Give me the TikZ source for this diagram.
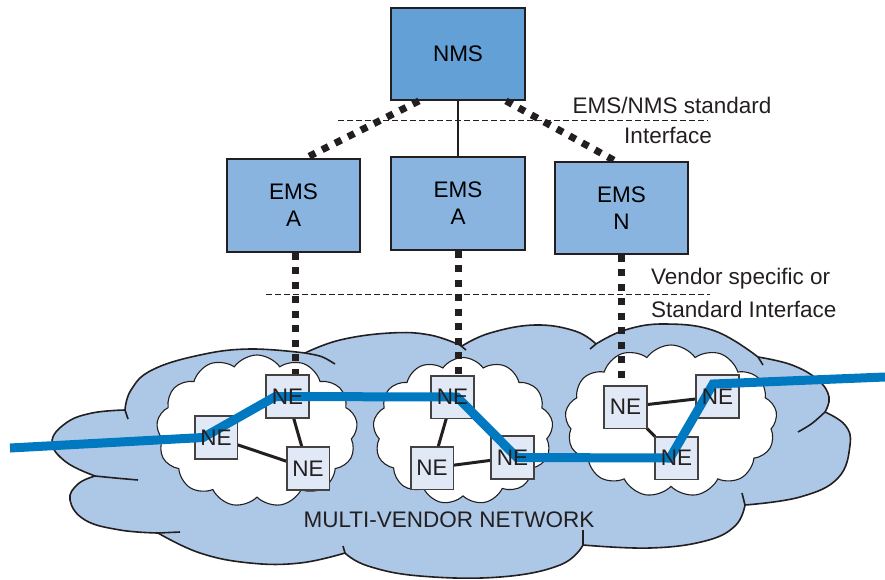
\documentclass[tikz,border=0pt]{standalone}
\usepackage{fontspec}
\setmainfont{Liberation Sans}
\usetikzlibrary{shapes.symbols,calc}
\definecolor{nmsblue}{HTML}{62A0D6}
\definecolor{emsblue}{HTML}{88B4DF}
\definecolor{cloudblue}{HTML}{ADC8E6}
\definecolor{nefill}{HTML}{E1E9F7}
\definecolor{linkblue}{HTML}{0079C1}
\definecolor{ink}{HTML}{231F20}
\begin{document}
\begin{tikzpicture}[x=1pt,y=-1pt,
  mgr/.style={draw=ink, line width=1.8pt, inner sep=0pt, align=center,
    minimum width=133, minimum height=92, font=\fontsize{22.5}{27}\selectfont},
  nebox/.style={draw=ink!85, line width=1.8pt, fill=nefill, inner sep=0pt,
    minimum width=41, minimum height=41},
  nelabel/.style={inner sep=0pt, font=\fontsize{22.5}{24}\selectfont, text=ink},
  dotline/.style={draw=ink, line width=7pt, dash pattern=on 7pt off 7.5pt},
  thindash/.style={draw=ink, line width=0.8pt, dash pattern=on 6pt off 3pt},
  link/.style={draw=ink, line width=3pt},
  bigcloud/.style={fill=cloudblue, draw=ink, line width=1.6pt, line join=round},
  stub/.style={draw=ink, line width=1.6pt},
  wcloud/.style={cloud, cloud ignores aspect, draw=ink, fill=white, line width=1.1pt,
    cloud puffs=13, cloud puff arc=110},
  txt/.style={inner sep=0pt, font=\fontsize{22.5}{27}\selectfont, text=ink}
]
\useasboundingbox (0,0) rectangle (885,579);

% big multi-vendor cloud
\path[bigcloud] (95,476)
 -- plot[smooth,tension=0.7] coordinates {(95,476) (66,462) (52,442) (66,423) (92,413) (125,410)}
 -- plot[smooth,tension=0.7] coordinates {(125,410) (131,390) (152,370) (200,355) (250,349) (305,353)}
 -- plot[smooth,tension=0.7] coordinates {(305,353) (340,340) (390,333) (430,335) (462,346)}
 -- plot[smooth,tension=0.7] coordinates {(462,346) (490,333) (535,325) (575,331) (596,344)}
 -- plot[smooth,tension=0.7] coordinates {(596,344) (625,330) (665,324) (715,331) (758,357)}
 -- plot[smooth,tension=0.7] coordinates {(758,357) (792,365) (818,380) (829,397) (825,412)}
 -- plot[smooth,tension=0.7] coordinates {(825,412) (845,425) (850,445) (838,478) (800,497) (745,505)}
 -- plot[smooth,tension=0.7] coordinates {(745,505) (735,526) (705,541) (650,548) (583,545)}
 -- plot[smooth,tension=0.7] coordinates {(583,545) (560,565) (500,577) (420,576) (368,566) (345,553)}
 -- plot[smooth,tension=0.7] coordinates {(345,553) (300,563) (250,563) (200,553) (158,533)}
 -- plot[smooth,tension=0.7] coordinates {(158,533) (120,530) (85,520) (70,500) (78,484) (95,476)}
 -- cycle;
\draw[stub] (95,476) .. controls (115,478) .. (138,480);
\draw[stub] (125,410) -- (128,419);
\draw[stub] (305,353) .. controls (322,356) .. (335,364);
\draw[stub] (460,345) -- (466,350);
\draw[stub] (596,344) -- (590,349);
\draw[stub] (758,357) -- (763,365);
\draw[stub] (825,412) .. controls (812,424) .. (798,432);
\draw[stub] (745,505) -- (742,493);
\draw[stub] (583,545) -- (583,530);
\draw[stub] (345,553) -- (343,546);
\draw[stub] (158,533) -- (180,532);

% white vendor clouds
\node[wcloud, minimum width=201, minimum height=152] (cl1) at (257,431) {};
\node[wcloud, minimum width=180, minimum height=147] (cl2) at (463,431) {};
\node[wcloud, minimum width=212, minimum height=152] (cl3) at (671,421) {};

% management boxes
\node[mgr, fill=nmsblue, minimum width=134] (nms) at (458,54) {NMS};
\node[mgr, fill=emsblue, minimum height=93] (emsA) at (293.5,205.5) {EMS\\A};
\node[mgr, fill=emsblue, minimum width=134, minimum height=93] (emsB) at (458,203.5) {EMS\\A};
\node[mgr, fill=emsblue] (emsN) at (621.5,208) {EMS\\N};

% interface lines and labels
\coordinate (d1a) at (338,120);
\coordinate (d1b) at (708,120);
\draw[thindash] (d1a) -- (d1b);
\coordinate (d2a) at (266,294);
\coordinate (d2b) at (710,294);
\draw[thindash] (d2a) -- (d2b);
\node[txt] (t1) at (672,105) {EMS/NMS standard};
\node[txt] (t2) at (668,135) {Interface};
\node[txt, anchor=west] (t3) at (651,279) {Vendor specific or};
\node[txt, anchor=west] (t4) at (651,309) {Standard Interface};

% NE boxes
\node[nebox] (neA1) at (287.5,396.5) {};
\node[nebox] (neA2) at (216,437.5) {};
\node[nebox] (neA3) at (308,468.5) {};
\node[nebox] (neB1) at (452.5,397) {};
\node[nebox] (neB2) at (432,468) {};
\node[nebox] (neB3) at (512.5,457.5) {};
\node[nebox] (neC1) at (625.5,407) {};
\node[nebox] (neC2) at (717.5,396.5) {};
\node[nebox] (neC3) at (676.5,458) {};

% NMS - EMS connectors
\draw[dotline] ([xshift=-39pt]nms.south) -- ([xshift=12pt]emsA.north);
\draw[dotline] ([xshift=48pt]nms.south) -- ([xshift=-6pt]emsN.north);
\draw[draw=ink, line width=1.8pt] (nms.south) -- (emsB.north);

% EMS - NE connectors
\draw[dotline] ([xshift=2pt]emsA.south) -- ([xshift=2pt]emsA.south |- neA1.north);
\draw[dotline] (emsB.south) -- (emsB.south |- neB1.north);
\draw[dotline] (emsN.south) -- (emsN.south |- neC1.north);

% links inside vendor clouds
\path (neA2) edge[link] (neA3);
\path (neA1) edge[link] (neA3);
\path (neB1) edge[link] (neB2);
\path (neB2) edge[link] (neB3);
\path (neC1) edge[link] (neC2);
\path (neC1) edge[link] (neC3);

% redraw boxes on top of links
\foreach \n in {neA1,neA2,neA3,neB1,neB2,neB3,neC1,neC2,neC3}{
  \draw[draw=ink!85, line width=1.8pt, fill=nefill] (\n.south west) rectangle (\n.north east);
}

% blue path
\coordinate (bstart) at (10,448);
\coordinate (bend) at (885,377);
\draw[linkblue, line width=9pt, line join=miter] (bstart)
  -- ([xshift=-13pt]neA2.center)
  -- ([xshift=-12pt]neA1.center)
  -- ([xshift=4.5pt]neB1.center)
  -- ([xshift=4.5pt]neB3.center)
  -- ([xshift=-6.5pt]neC3.center)
  -- ([shift={(-4.5,-12.5)}]neC2.center)
  -- (bend);

% NE labels
\foreach \n in {neA1,neA2,neA3,neB1,neB2,neB3,neC1,neC2,neC3}{
  \node[nelabel] (\n t) at (\n.center) {NE};
}
\node[txt] (mvn) at (449,520) {MULTI-VENDOR NETWORK};
\end{tikzpicture}
\end{document}
